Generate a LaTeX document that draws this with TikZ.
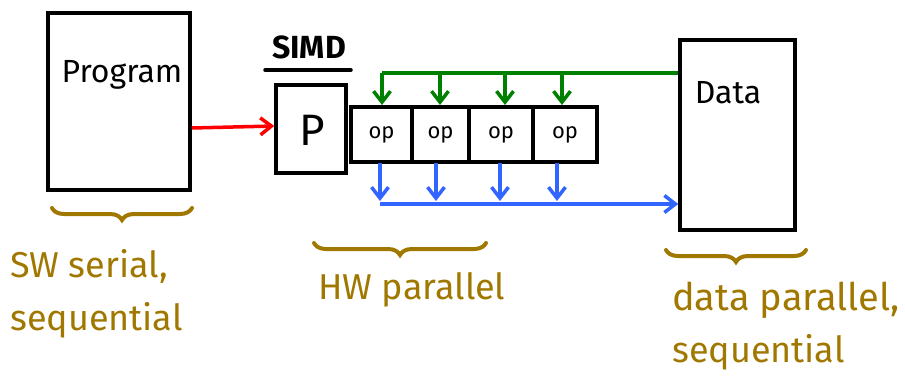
\documentclass[tikz,border=0pt]{standalone}
\usepackage{fontspec}
\setmainfont{Fira Sans}
\usetikzlibrary{arrows.meta,decorations.pathreplacing}
\definecolor{olive}{RGB}{160,120,0}
\definecolor{dgreen}{RGB}{0,128,0}
\definecolor{bblue}{RGB}{50,100,255}
\begin{document}
\begin{tikzpicture}[x=1pt,y=-1pt,
  boxst/.style={draw=black,line width=3.5pt,inner sep=0pt},
  arr/.style={line width=3.5pt,-{Straight Barb[length=11pt,width=17pt,line width=3.5pt]}},
  lbl/.style={text=olive,font=\fontsize{36}{40}\selectfont,anchor=west,inner sep=0pt},
  brc/.style={draw=olive,line width=4pt,line cap=round,decorate,decoration={brace,mirror,amplitude=12pt}}]
\useasboundingbox (0,0) rectangle (905,381);
% boxes
\node[boxst,minimum width=142pt,minimum height=177pt] (prog) at (119,101.5) {};
\node[font=\fontsize{32}{36}\selectfont] (progt) at (122,75) {Program};
\node[boxst,minimum width=70pt,minimum height=88pt] (p) at (311,129) {};
\node[font=\fontsize{44}{48}\selectfont] (pt) at (312,130) {P};
\node[boxst,minimum width=115pt,minimum height=190pt] (data) at (737.5,135) {};
\node[font=\fontsize{32}{36}\selectfont] (datat) at (728,93) {Data};
\node[font=\bfseries\fontsize{32}{36}\selectfont] (simd) at (309,47) {SIMD};
\coordinate (ul1) at (265,70); \coordinate (ul2) at (351,70);
\draw[line width=3.5pt,line cap=round] (ul1) -- (ul2);
% op boxes
\node[boxst,font=\fontsize{22}{24}\selectfont,minimum width=61pt,minimum height=55pt] (op1) at (381.5,134.5) {op};
\node[boxst,font=\fontsize{22}{24}\selectfont,minimum width=57pt,minimum height=55pt] (op2) at (440.5,134.5) {op};
\node[boxst,font=\fontsize{22}{24}\selectfont,minimum width=64pt,minimum height=55pt] (op3) at (501,134.5) {op};
\node[boxst,font=\fontsize{22}{24}\selectfont,minimum width=64pt,minimum height=55pt] (op4) at (565,134.5) {op};
% red arrow
\draw[arr,draw=red] (prog.east |- 0,128) -- (p.west |- 0,126);
% green
\coordinate (g0) at (382,73);
\draw[line width=3.5pt,dgreen] (g0) -- (data.west |- g0);
\foreach \x in {382,440,505,562}{
  \draw[arr,draw=dgreen] (\x,73) -- (\x,105);}
% blue
\foreach \x in {380,436,500,557}{
  \draw[arr,draw=bblue] (\x,163) -- (\x,201);}
\coordinate (b0) at (380,204);
\draw[arr,draw=bblue] (b0) -- (data.west |- b0);
% braces
\coordinate (br1a) at (52,208); \coordinate (br1b) at (192,208);
\draw[brc] (br1a) -- (br1b);
\coordinate (br2a) at (314,243); \coordinate (br2b) at (486,243);
\draw[brc] (br2a) -- (br2b);
\coordinate (br3a) at (666,250); \coordinate (br3b) at (806,250);
\draw[brc] (br3a) -- (br3b);
% labels
\node[lbl] (l1) at (10,266) {SW serial,};
\node[lbl] (l2) at (10,320) {sequential};
\node[lbl] (l3) at (318,290) {HW parallel};
\node[lbl,font=\fontsize{38}{42}\selectfont] (l4) at (672,300) {data parallel,};
\node[lbl] (l5) at (672,352) {sequential};
\end{tikzpicture}
\end{document}
